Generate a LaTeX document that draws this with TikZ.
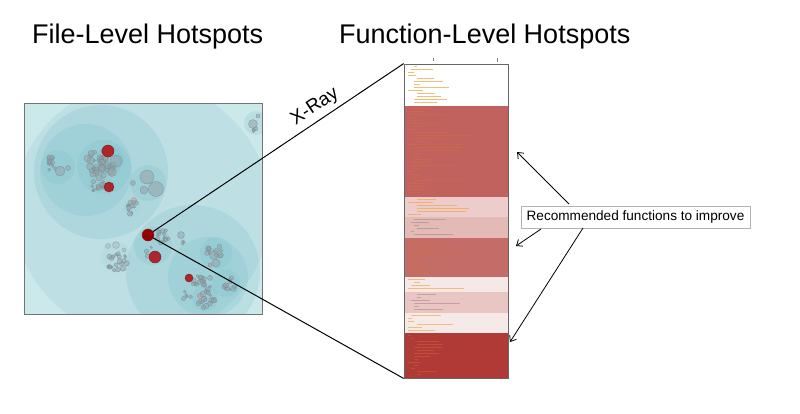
\documentclass[tikz,border=0pt]{standalone}
\usepackage{fontspec}
\setmainfont{Liberation Sans}
\usetikzlibrary{arrows.meta}
\definecolor{sqbase}{RGB}{203,232,235}
\definecolor{sqhuge}{RGB}{190,223,227}
\definecolor{tealc}{RGB}{100,180,192}
\definecolor{bubfill}{RGB}{150,163,170}
\definecolor{bubdraw}{RGB}{120,138,145}
\definecolor{hotred}{RGB}{172,38,44}
\definecolor{hotdraw}{RGB}{125,25,28}
\definecolor{srcred}{RGB}{150,0,5}
\definecolor{segA}{RGB}{193,98,94}
\definecolor{segB}{RGB}{236,205,203}
\definecolor{segC}{RGB}{228,186,183}
\definecolor{segD}{RGB}{196,108,103}
\definecolor{segE}{RGB}{246,232,231}
\definecolor{segF}{RGB}{233,198,196}
\definecolor{segG}{RGB}{246,234,233}
\definecolor{segH}{RGB}{176,58,53}
\definecolor{codeor}{RGB}{240,160,60}
\definecolor{codedk}{RGB}{214,112,62}
\definecolor{codegr}{RGB}{150,120,110}
\newcommand\bubs[6]{% x y R n seed maxr
  \pgfmathsetseed{#5}
  \foreach \i in {1,...,#4}{
    \pgfmathsetmacro\ang{rnd*360}
    \pgfmathsetmacro\rr{sqrt(rnd)*#3}
    \pgfmathsetmacro\cr{1.2+rnd*#6}
    \filldraw[bub] ({#1+\rr*cos(\ang)},{#2+\rr*sin(\ang)}) circle[radius=\cr];
  }}
\newcommand\codelines[5]{% y1 y2 color seed opacity
  \pgfmathsetseed{#4}
  \pgfmathsetmacro\ystart{#1+2.5}
  \pgfmathsetmacro\ynext{#1+5.5}
  \pgfmathsetmacro\yend{#2-2}
  \foreach \yy in {\ystart,\ynext,...,\yend}{
    \pgfmathsetmacro\ind{408+floor(rnd*4)*3}
    \pgfmathsetmacro\len{3+rnd*rnd*60}
    \draw[#3,line width=0.8pt,opacity=#5] (\ind,\yy) -- ++(\len,0);
  }}
\begin{document}
\begin{tikzpicture}[x=1pt,y=-1pt,
  title/.style={font=\fontsize{27}{32}\selectfont, anchor=base west, inner sep=0},
  ring/.style={fill=tealc, fill opacity=0.17},
  bub/.style={fill=bubfill, fill opacity=0.55, draw=bubdraw, draw opacity=.8, line width=0.35pt},
  palebub/.style={fill=bubfill, fill opacity=0.3, draw=bubdraw, draw opacity=.6, line width=0.35pt},
  hot/.style={circle, fill=hotred, draw=hotdraw, line width=0.4pt, inner sep=0},
  ray/.style={draw=black, line width=1pt},
  callarrow/.style={draw=black, line width=0.8pt, -{Straight Barb[length=5pt,width=8pt]}}]
\useasboundingbox (0,0) rectangle (800,413);
\fill[white] (0,0) rectangle (800,413);

% titles
\node[title] (t1) at (32,43) {File-Level Hotspots};
\node[title] (t2) at (339,43) {Function-Level Hotspots};

% ---------- file-level bubble map ----------
\begin{scope}
\clip (24,103) rectangle (262,314);
\fill[sqbase] (24,103) rectangle (262,314);
\fill[sqhuge] (142,210) circle[radius=128];
% level 1
\fill[ring] (101,172) circle[radius=67];
\fill[ring] (193,272) circle[radius=67];
% level 2
\fill[ring] (86,170) circle[radius=46];
\fill[ring] (153,246) circle[radius=19];
\fill[ring] (208,277) circle[radius=40];
\fill[ring] (148,183) circle[radius=18];
\fill[ring] (256,123) circle[radius=12];
% level 3
\fill[ring] (58,167) circle[radius=17];
\fill[ring] (104,167) circle[radius=27];
\fill[ring] (216,253) circle[radius=16];
\fill[ring] (226,283) circle[radius=14];
\fill[ring] (205,298) circle[radius=13];
\fill[ring,fill opacity=.08] (116,257) circle[radius=15];
\fill[ring,fill opacity=.08] (132,208) circle[radius=9];
\fill[ring] (110,160) circle[radius=14];
% small bubbles
\bubs{53}{164}{8}{12}{11}{1.6}
\filldraw[bub] (60,171) circle[radius=5];
\filldraw[bub] (68,168) circle[radius=2.5];
\bubs{100}{164}{14}{42}{12}{2.4}
\filldraw[bub] (116,161) circle[radius=6];
\filldraw[bub] (112,172) circle[radius=4.5];
\bubs{98}{186}{7}{12}{13}{1.7}
\filldraw[bub] (147,177) circle[radius=7];
\filldraw[bub] (156,189) circle[radius=7.5];
\filldraw[bub] (144,190) circle[radius=4];
\filldraw[bub] (133,183) circle[radius=2.5];
\bubs{134}{208}{7}{11}{14}{1.6}
\filldraw[bub,fill=hotred!45,fill opacity=.5] (134,200) circle[radius=2.5];
\filldraw[bub] (253,124) circle[radius=4.5];
\filldraw[bub] (258,116) circle[radius=2];
\bubs{256}{130}{3}{3}{15}{0.8}
\bubs{163}{236}{7}{14}{16}{1.5}
\filldraw[bub] (181,235) circle[radius=3.5];
\bubs{182}{243}{3}{3}{17}{0.7}
\bubs{150}{252}{5}{6}{18}{1.3}
\bubs{117}{262}{10}{20}{19}{1.6}
\filldraw[palebub] (116,245) circle[radius=3.5];
\filldraw[palebub] (108,246) circle[radius=2.5];
\filldraw[palebub] (124,250) circle[radius=2];
\bubs{214}{252}{9}{11}{20}{1.5}
\filldraw[bub] (214,255) circle[radius=4.5];
\filldraw[bub] (216,263) circle[radius=4];
\bubs{203}{285}{11}{20}{21}{1.7}
\bubs{227}{284}{9}{11}{22}{1.7}
\bubs{206}{300}{9}{14}{23}{1.7}
\bubs{186}{296}{5}{5}{24}{1.3}
% hot files
\node[hot, minimum size=12pt] (h1) at (108,151) {};
\node[hot, minimum size=10pt] (h2) at (109,187) {};
\node[hot, minimum size=12pt] (h3) at (155,257) {};
\node[hot, minimum size=8pt] (h4) at (189,278) {};
\filldraw[bub,fill=hotred!50] (210,265) circle[radius=2];
\filldraw[bub,fill=hotred!50] (200,296) circle[radius=2.5];
\end{scope}
\draw[gray!90!black, line width=1pt] (24,103) rectangle (262,314);
\node[circle, fill=srcred, draw=hotdraw, line width=0.4pt, inner sep=0, minimum size=12pt] (src) at (148,235) {};

% ---------- function-level column ----------
\fill[white] (404,64) rectangle (508,106);
\fill[segA] (404,106) rectangle (508,197);
\fill[segB] (404,197) rectangle (508,217);
\fill[segC] (404,217) rectangle (508,238);
\fill[segD] (404,238) rectangle (508,277);
\fill[segE] (404,277) rectangle (508,292);
\fill[segF] (404,292) rectangle (508,313);
\fill[segG] (404,313) rectangle (508,333);
\fill[segH] (404,333) rectangle (508,378);
\codelines{64}{106}{codeor}{31}{.7}
\codelines{106}{197}{codedk}{32}{.45}
\codelines{197}{217}{codeor}{33}{.6}
\codelines{217}{238}{codegr}{34}{.45}
\codelines{238}{277}{codedk}{35}{.45}
\codelines{277}{292}{codeor}{36}{.6}
\codelines{292}{313}{codegr}{37}{.45}
\codelines{313}{333}{codeor}{38}{.6}
\codelines{333}{378}{codedk}{39}{.4}
\node[draw=gray!80!black, line width=0.8pt, minimum width=104pt, minimum height=314pt, inner sep=0] (col) at (456,221) {};
\draw[gray, line width=0.8pt] (433,58) -- (433,61);
\draw[gray, line width=0.8pt] (497,58) -- (497,62);

% ---------- x-ray lines ----------
\draw[ray] (src) -- (col.north west);
\draw[ray] (src) -- (col.south west);
\node[font=\fontsize{19}{22}\selectfont, rotate=33.5] (xray) at (315,107) {X-Ray};

% ---------- callout ----------
\node[draw=gray!60, line width=0.8pt, minimum width=229pt, minimum height=22pt, inner sep=2pt,
      font=\fontsize{13.6}{16}\selectfont] (callout) at (635.5,217) {Recommended functions to improve};
\coordinate (a1s) at (569,204);
\coordinate (a1e) at (517,152);
\coordinate (a2s) at (541,229);
\coordinate (a2e) at (516,246);
\coordinate (a3s) at (583,228);
\coordinate (a3e) at (510,342);
\draw[callarrow] (a1s) -- (a1e);
\draw[callarrow] (a2s) -- (a2e);
\draw[callarrow] (a3s) -- (a3e);
\end{tikzpicture}
\end{document}
